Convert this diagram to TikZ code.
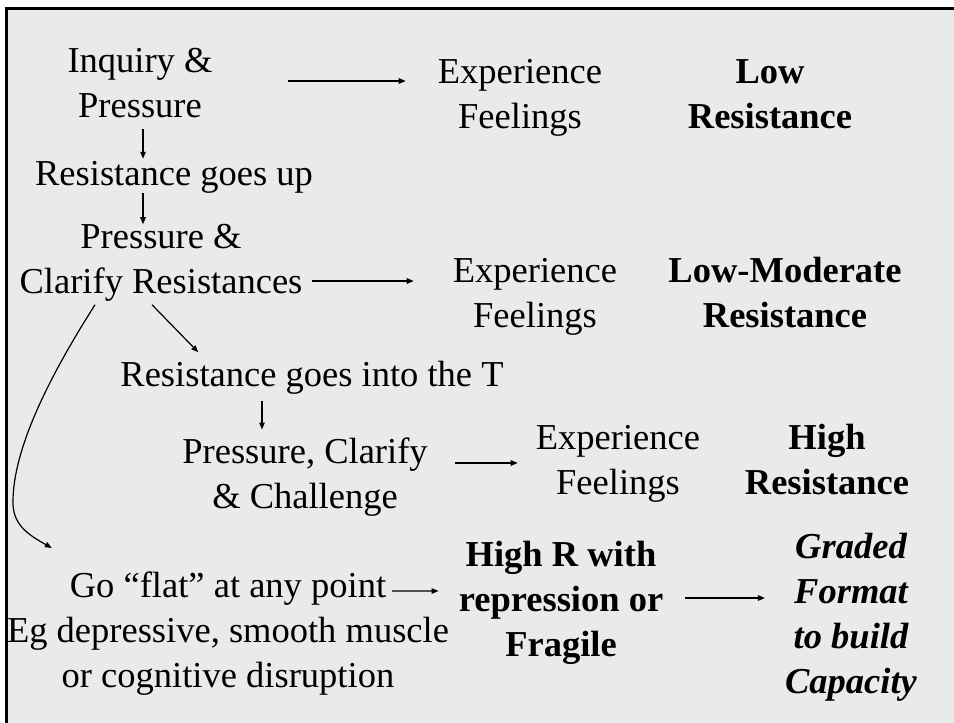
\documentclass[tikz,border=0pt]{standalone}
\usepackage{fontspec}
\setmainfont{Liberation Serif}
\usetikzlibrary{arrows.meta}

\definecolor{slidegray}{HTML}{EAEAEA}
\newcommand{\slidefont}{\fontsize{36.5}{45}\selectfont}

\begin{document}
\begin{tikzpicture}[x=1pt,y=-1pt,
  txt/.style={align=center,inner sep=0pt,font=\slidefont},
  bold/.style={txt,font=\slidefont\bfseries},
  arr/.style={-{Triangle[length=7pt,width=5.5pt]},line width=1.2pt}]
\useasboundingbox (0,0) rectangle (954,723);
\fill[white] (0,0) rectangle (954,723);
\fill[slidegray] (6.7,8.7) rectangle (954,723); %slide background
\draw[line width=3pt] (6.7,723) -- (6.7,8.7) -- (954,8.7); %frame

% left column
\node[txt] (inq) at (140,83) {Inquiry \&\\Pressure};
\node[txt] (rup) at (174,177) {Resistance goes up};
\node[txt] (pcr) at (161,263) {Pressure \&\\Clarify Resistances};
\node[txt] (rint) at (312,378) {Resistance goes into the T};
\node[txt] (pcc) at (305,477) {Pressure, Clarify\\\& Challenge};
\node[txt] (flat) at (228,634) {Go “flat” at any point\\Eg depressive, smooth muscle\\or cognitive disruption};

% feelings
\node[txt] (exp1) at (520,98) {Experience\\Feelings};
\node[txt] (exp2) at (535,297) {Experience\\Feelings};
\node[txt] (exp3) at (618,464) {Experience\\Feelings};

% resistance levels
\node[bold] (low) at (770,94) {Low\\Resistance};
\node[bold] (lowmod) at (785,293) {Low-Moderate\\Resistance};
\node[bold] (high) at (827,460) {High\\Resistance};
\node[bold] (hr) at (561,603) {High R with\\repression or\\Fragile};
\node[txt,font=\slidefont\bfseries\itshape] (graded) at (851,617) {Graded\\Format\\to build\\Capacity};

% arrows
\draw[arr] ([xshift=75pt,yshift=2pt]inq.east) -- ([xshift=-32pt,yshift=17pt]exp1.west);
\draw[arr] ([xshift=3pt,yshift=-11pt]inq.south) -- ([xshift=-31pt,yshift=2pt]rup.north);
\draw[arr] ([xshift=-31pt]rup.south) -- ([xshift=-18pt]pcr.north);
\draw[arr] ([xshift=9pt,yshift=-18pt]pcr.east) -- ([xshift=-39pt,yshift=16pt]exp2.west);
\draw[arr] ([xshift=-9pt,yshift=-3pt]pcr.south) -- ([xshift=78pt,yshift=9pt]rint.north west);
\draw[arr] ([xshift=-50pt,yshift=-6pt]rint.south) -- ([xshift=-43pt,yshift=8pt]pcc.north);
\draw[arr] ([xshift=27pt,yshift=14pt]pcc.east) -- ([xshift=-18pt,yshift=1pt]exp3.west);
\draw[arr] ([xshift=-66pt,yshift=-3pt]pcr.south) .. controls (60,360) and (14,440) .. (13,500)
  .. controls (12,524) and (27,534) .. ([xshift=45pt,yshift=24pt]flat.north west); %go flat
\draw[arr] ([xshift=164pt,yshift=-19pt]flat.north) -- ([xshift=-20pt,yshift=12pt]hr.west);
\draw[arr] ([xshift=22pt,yshift=5pt]hr.east) -- ([xshift=-20pt,yshift=19pt]graded.west);

\end{tikzpicture}
\end{document}
